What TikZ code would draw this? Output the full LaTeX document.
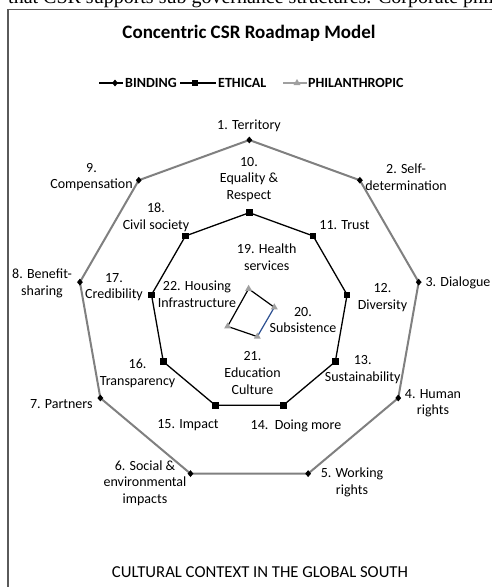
\documentclass[tikz,border=0pt]{standalone}
\usepackage{fontspec}
\setmainfont{Carlito}
\newfontfamily\docserif{Liberation Serif}
\usetikzlibrary{shapes.geometric,backgrounds}
\definecolor{bindgray}{RGB}{128,128,128}
\definecolor{philgray}{RGB}{160,160,160}
\definecolor{framegray}{RGB}{90,90,90}
\definecolor{philblue}{RGB}{45,80,145}
\tikzset{
  bmark/.style={diamond,fill=black,inner sep=0pt,minimum width=6pt,minimum height=7pt},
  emark/.style={rectangle,fill=black,inner sep=0pt,minimum size=6.5pt},
  pmark/.style={isosceles triangle,isosceles triangle apex angle=60,shape border rotate=90,fill=philgray,inner sep=0pt,minimum size=6pt},
  bline/.style={draw=bindgray,line width=2pt,line join=round},
  eline/.style={draw=black,line width=1.3pt,line join=round},
  pline/.style={draw=black,line width=1.2pt},
  lab/.style={align=center,inner sep=0pt,font=\fontsize{14}{16.7}\selectfont},
  legtext/.style={anchor=west,inner sep=0pt,font=\fontsize{14}{16}\selectfont\bfseries},
  framel/.style={draw=framegray,line width=1.3pt}
}
\begin{document}
\begin{tikzpicture}[x=1pt,y=-1pt]
\useasboundingbox (0,0) rectangle (491,587);
% cut-off text of the surrounding page
\node[anchor=base west,inner sep=0pt,font=\fontsize{20}{20}\selectfont\docserif] (pagetext) at (8,3) {that CSR supports sub governance structures. Corporate philanthropy};
% frame
\coordinate (fa) at (8,600);
\coordinate (fb) at (8,9.5);
\coordinate (fc) at (500,9.5);
\draw[framel] (fa) -- (fb) -- (fc);
% title
\node[inner sep=0pt,font=\fontsize{19}{22}\selectfont\bfseries] (title) at (249,33) {Concentric CSR Roadmap Model};
% legend
\coordinate (lb1) at (99,83); \coordinate (lb2) at (123,83);
\coordinate (le1) at (180,83); \coordinate (le2) at (216,83);
\coordinate (lp1) at (283,83); \coordinate (lp2) at (307,83);
\draw[black,line width=1.5pt] (lb1) -- (lb2);
\draw[black,line width=1.5pt] (le1) -- (le2);
\draw[philgray,line width=1.5pt] (lp1) -- (lp2);
\node[bmark] (lbm) at (115,83) {};
\node[emark] (lem) at (195,83) {};
\node[pmark] (lpm) at (297,83) {};
\node[legtext] (lbt) at (125,83) {BINDING};
\node[legtext] (let) at (218,83) {ETHICAL};
\node[legtext] (lpt) at (308,83) {PHILANTHROPIC};
% vertices
\foreach \i in {1,...,9}{
  \pgfmathsetmacro{\ang}{(\i-1)*40}
  \node[bmark] (b\i) at ({249.3+172*sin(\ang)},{312-172*cos(\ang)}) {};
  \node[emark] (e\i) at ({249.3+99.3*sin(\ang)},{312-99.3*cos(\ang)}) {};
}
\node[pmark] (p1) at (248.6,288.8) {};
\node[pmark] (p2) at (274.3,307.3) {};
\node[pmark] (p3) at (257.3,336.6) {};
\node[pmark] (p4) at (227.6,326.4) {};
\begin{pgfonlayer}{background}
\fill[white] (0,0) rectangle (491,587);
\draw[bline] (b1.center) -- (b2.center) -- (b3.center) -- (b4.center) -- (b5.center) -- (b6.center) -- (b7.center) -- (b8.center) -- (b9.center) -- cycle;
\draw[eline] (e1.center) -- (e2.center) -- (e3.center) -- (e4.center) -- (e5.center) -- (e6.center) -- (e7.center) -- (e8.center) -- (e9.center) -- cycle;
\draw[pline] (p3.center) -- (p4.center) -- (p1.center) -- (p2.center);
\draw[pline,draw=philblue] (p2.center) -- (p3.center);
\end{pgfonlayer}
% labels binding
\node[lab] (l1) at (249,126) {1. Territory};
\node[lab] (l2) at (406,177) {2. Self-\\determination};
\node[lab] (l3) at (458,282.7) {3. Dialogue};
\node[lab] (l4) at (433,403.3) {4. Human\\rights};
\node[lab] (l5) at (352,482) {5. Working\\rights};
\node[lab] (l6) at (145,483) {6. Social \&\\environmental\\impacts};
\node[lab] (l7) at (61.3,404.3) {7. Partners};
\node[lab] (l8) at (42,283.3) {8. Benefit-\\sharing};
\node[lab] (l9) at (91.5,177) {9.\\Compensation};
% labels ethical
\node[lab] (l10) at (249,179.5) {10.\\Equality \&\\Respect};
\node[lab] (l11) at (344.5,225) {11. Trust};
\node[lab] (l12) at (382.5,297.5) {12.\\Diversity};
\node[lab] (l13) at (362.7,369.3) {13.\\Sustainability};
\node[lab] (l14) at (296,426) {14.\ \ Doing more};
\node[lab] (l15) at (188,425) {15. Impact};
\node[lab] (l16) at (137.6,373.3) {16.\\Transparency};
\node[lab] (l17) at (114,287) {17.\\Credibility};
\node[lab] (l18) at (156,217) {18.\\Civil society};
% labels philanthropic
\node[lab] (l19) at (266.7,257) {19. Health\\services};
\node[lab] (l20) at (303,320) {20.\\Subsistence};
\node[lab] (l21) at (252.5,373) {21.\\Education\\Culture};
\node[lab] (l22) at (197,294) {22. Housing\\Infrastructure};
% bottom caption
\node[inner sep=0pt,font=\fontsize{16.7}{19}\selectfont] (caption) at (260,571.7) {CULTURAL CONTEXT IN THE GLOBAL SOUTH};
\end{tikzpicture}
\end{document}
